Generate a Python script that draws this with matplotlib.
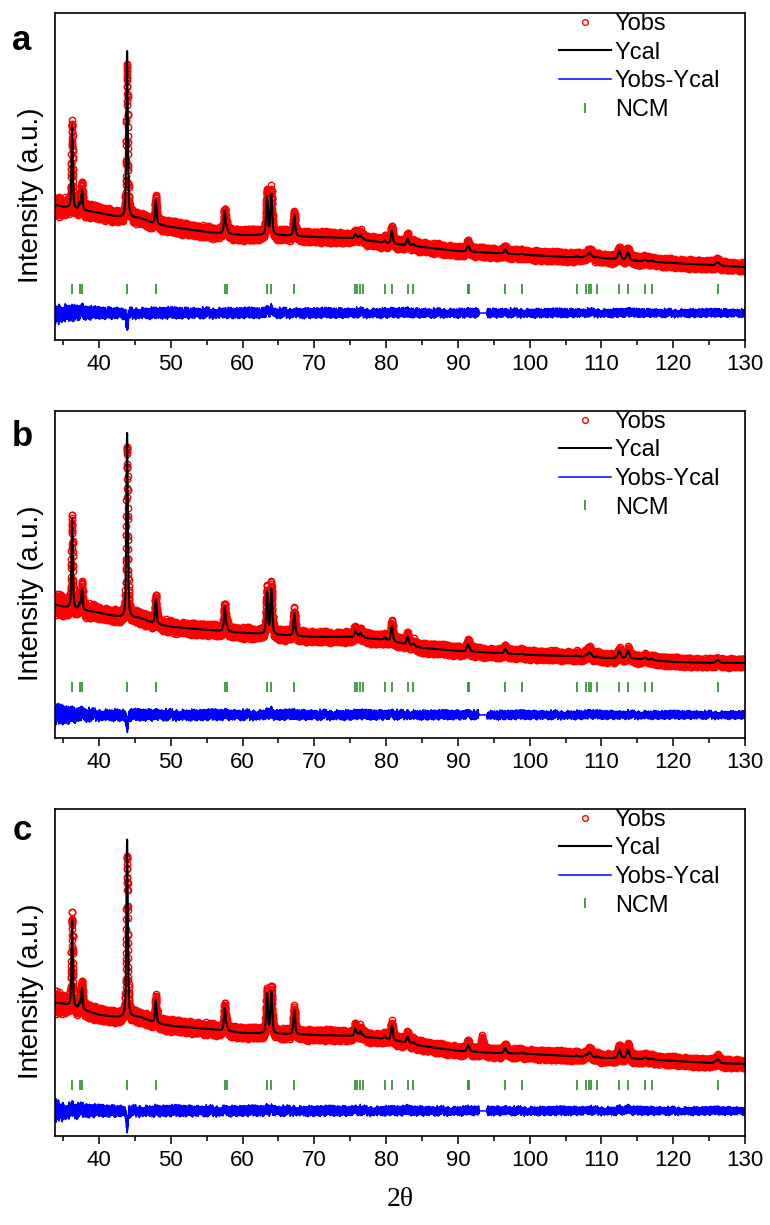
import numpy as np
import matplotlib.pyplot as plt
from matplotlib.ticker import MultipleLocator

plt.rcParams["font.family"] = ["Liberation Sans", "DejaVu Sans"]

# 2theta grid of the scan
tth = np.arange(33.9, 130.001, 0.01)

# NCM reflection positions (green ticks) and peak widths (FWHM, deg)
ncm_pos = [36.24, 37.27, 37.61, 43.9, 47.9, 57.5, 57.8, 63.4, 64.0, 67.2,
           75.7, 76.0, 76.4, 76.8, 79.8, 80.8, 83.0, 83.8, 91.4, 91.6,
           96.6, 98.9, 106.6, 107.8, 108.3, 108.6, 109.4, 112.5, 113.7,
           116.1, 117.0, 126.2]
ncm_fwhm = [0.22, 0.23, 0.23, 0.24, 0.25, 0.27, 0.27, 0.28, 0.28, 0.29,
            0.31, 0.31, 0.31, 0.31, 0.32, 0.32, 0.33, 0.33, 0.36, 0.36,
            0.38, 0.39, 0.42, 0.43, 0.43, 0.43, 0.44, 0.45, 0.45,
            0.47, 0.47, 0.52]

# background read at these angles
bg_nodes = [34, 35, 40, 45, 50, 55, 60, 65, 70, 75, 80, 85, 90, 95, 100,
            105, 110, 115, 120, 125, 130]
bg_a = [1750, 1700, 1550, 1350, 1200, 1075, 1000, 1000, 950, 925, 800, 700,
        600, 550, 500, 450, 425, 350, 300, 250, 200]
bg_b = [1700, 1650, 1500, 1300, 1150, 1075, 1000, 950, 900, 900, 825, 625,
        550, 500, 450, 425, 375, 350, 275, 250, 250]
bg_c = [1700, 1675, 1400, 1275, 1125, 1050, 950, 925, 900, 875, 800, 625,
        500, 450, 425, 375, 325, 300, 250, 200, 175]

# broad hump after the (104) peak
hump = (45.6, 90, 2.5)

# calculated / observed peak heights above background
cal_a = [2080, 150, 500, 4175, 600, 550, 130, 950, 1000, 520, 120, 40, 110, 30,
         60, 320, 170, 60, 130, 40, 110, 30, 25, 40, 100, 40, 25, 220, 190, 50, 30, 90]
obs_a = [2130, 170, 600, 3800, 625, 575, 140, 1050, 1100, 550, 140, 45, 120, 35,
         70, 350, 200, 65, 150, 45, 120, 35, 30, 45, 120, 45, 30, 240, 220, 55, 35, 100]
cal_b = [2250, 150, 520, 4625, 620, 600, 130, 1050, 1120, 570, 150, 50, 120, 40,
         60, 380, 200, 60, 150, 50, 120, 30, 25, 40, 120, 40, 25, 180, 190, 50, 30, 80]
obs_b = [2250, 170, 600, 4275, 650, 625, 140, 1125, 1200, 600, 175, 55, 140, 45,
         70, 425, 225, 65, 190, 55, 125, 35, 30, 45, 150, 45, 30, 175, 200, 55, 35, 75]
cal_c = [2175, 150, 520, 4450, 580, 570, 120, 980, 1040, 600, 180, 50, 140, 40,
         60, 360, 170, 60, 140, 40, 130, 30, 25, 40, 120, 40, 25, 200, 220, 50, 30, 100]
obs_c = [2275, 170, 625, 4025, 600, 600, 130, 1025, 1100, 625, 220, 55, 160, 45,
         70, 400, 200, 65, 175, 45, 150, 35, 30, 45, 150, 45, 30, 240, 280, 55, 35, 110]
extra_c = [(93.4, 300, 0.3)]  # unindexed obs peak in excluded range

excluded = (92.9, 94.1)

# residual texture (hand read, tiled) and its amplitude along 2theta
resid_a = [0.6, -0.3, 0.9, -0.8, 0.1, 0.4, -0.6, -0.1, 0.8, -0.9, 0.3, 0.0, -0.5,
           0.7, -0.2, 0.5, -0.7, 0.2, 0.9, -0.4, -0.8, 0.3, 0.6, -0.1, -0.6, 0.4,
           0.1, -0.9, 0.7, -0.3, 0.2, 0.8, -0.5, -0.2, 0.5, -0.7, 0.0]
resid_b = [-0.4, 0.7, 0.1, -0.8, 0.5, -0.2, 0.9, -0.6, 0.3, -0.1, -0.7, 0.6, 0.2,
           -0.5, 0.8, -0.3, 0.4, -0.9, 0.0, 0.6, -0.4, 0.3, -0.6, 0.9, -0.2, 0.1,
           -0.8, 0.5, 0.2]
amp_nodes = [34, 37, 40, 60, 90, 130]
amp_vals = [330, 240, 190, 170, 150, 130]

panels = ["a", "b", "c"]
bgs = [bg_a, bg_b, bg_c]
cals = [cal_a, cal_b, cal_c]
obss = [obs_a, obs_b, obs_c]
extras = [[], [], extra_c]
diff_offsets = [-950, -1050, -1000]
tick_y = -350


def pv(x, pos, h, fwhm, eta=0.5):
    hw = fwhm / 2
    g = np.exp(-np.log(2) * ((x - pos) / hw) ** 2)
    l = 1 / (1 + ((x - pos) / hw) ** 2)
    return h * (eta * l + (1 - eta) * g)


def profile(bg, heights, extra=()):
    y = np.interp(tth, bg_nodes, bg)
    for p, h, w in zip(ncm_pos, heights, ncm_fwhm):
        y = y + pv(tth, p, h, w)
    y = y + pv(tth, *hump)
    for p, h, w in extra:
        y = y + pv(tth, p, h, w)
    return y


fig = plt.figure(figsize=(7.7, 12.25), dpi=100)
bottoms = [0.7224, 0.3976, 0.0727]
label_y = [41, 436, 831]

for i, name in enumerate(panels):
    ax = fig.add_axes([0.0714, bottoms[i], 0.896, 0.267])
    ycal = profile(bgs[i], cals[i])
    n = len(tth)
    noise = (np.roll(np.resize(resid_a, n), 7 * i) + np.roll(np.resize(resid_b, n), 11 * i)) / 2
    yobs = profile(bgs[i], obss[i], extras[i]) + noise * np.interp(tth, amp_nodes, amp_vals)
    diff = yobs - ycal
    ex = (tth > excluded[0]) & (tth < excluded[1])
    diff[ex] = 0

    ax.plot(tth, yobs, "o", ms=4.6, mfc="none", mec="#ff0000", mew=1.0, label="Yobs")
    ax.plot(tth, ycal, color="k", lw=1.5, label="Ycal")
    ax.plot(tth, diff + diff_offsets[i], color="#0000ff", lw=1.1, label="Yobs-Ycal")
    ax.plot(ncm_pos, np.full(len(ncm_pos), tick_y), "|", ls="none", color="#2a8c2a",
            ms=7.5, mew=1.2, label="NCM")

    ax.set_xlim(33.85, 130)
    ax.set_ylim(-1625, 6550)
    ax.set_yticks([])
    ax.xaxis.set_major_locator(MultipleLocator(10))
    ax.xaxis.set_minor_locator(MultipleLocator(5))
    ax.tick_params(axis="x", which="major", direction="out", length=6, width=1.1,
                   labelsize=16, pad=4,
                   labelfontfamily=["Liberation Sans Narrow", "Liberation Sans"])
    ax.tick_params(axis="x", which="minor", direction="out", length=3.5, width=1.1)
    for s in ax.spines.values():
        s.set_linewidth(1.2)

    ax.set_ylabel("Intensity (a.u.)", fontsize=20)
    ax.yaxis.set_label_coords(-0.016, 0.443)

    leg = ax.legend(loc="upper right", bbox_to_anchor=(0.995, 1.065), frameon=False,
                    fontsize=17, handlelength=2.2, handletextpad=0.15, labelspacing=0.28,
                    numpoints=1, markerscale=0.9)

    fig.text(22 / 770, 1 - label_y[i] / 1225, name, fontsize=25, weight="bold",
             ha="center", va="center")

fig.text(0.52, 1 - 1200 / 1225, "2θ", family=["Liberation Serif", "DejaVu Serif"],
         fontsize=20, ha="center", va="center")

fig.savefig("out.png", dpi=100)
